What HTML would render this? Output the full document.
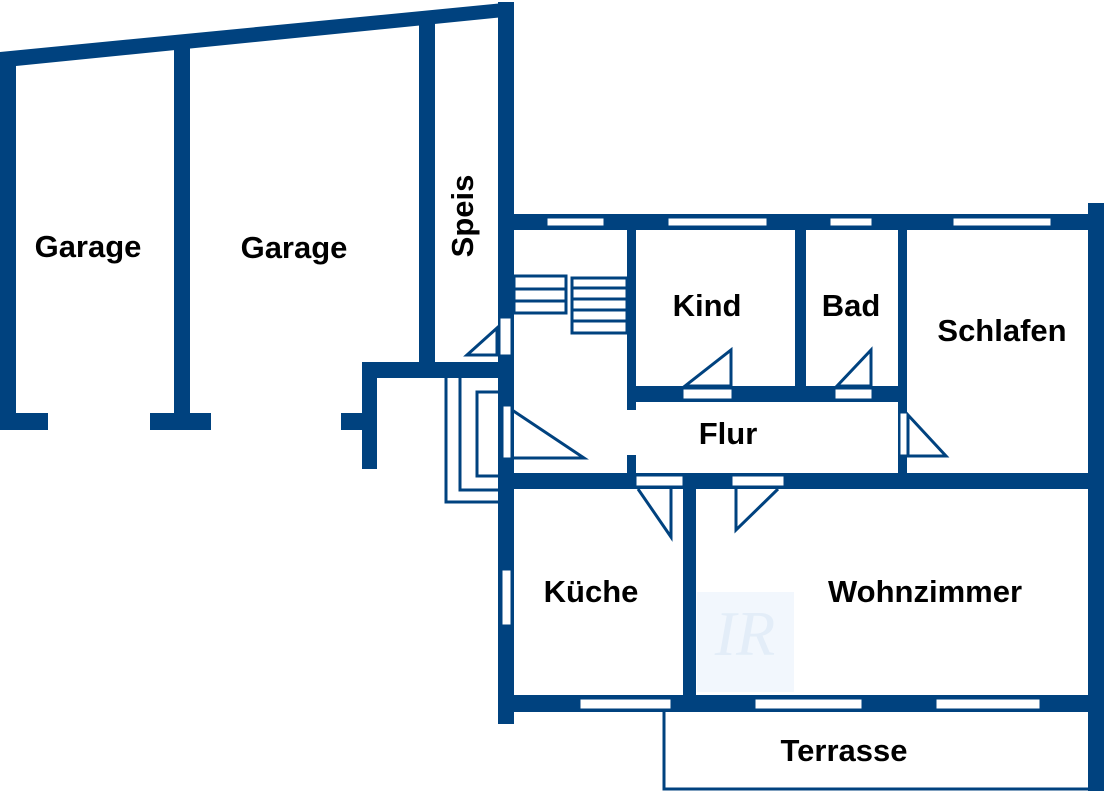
<!DOCTYPE html>
<html><head><style>
html,body{margin:0;padding:0;background:#fff;width:1106px;height:791px;overflow:hidden}
svg text{font-family:"Liberation Sans",sans-serif;font-weight:bold;font-size:31px;fill:#000;text-anchor:middle}
</style></head><body>
<svg width="1106" height="791" viewBox="0 0 1106 791" xmlns="http://www.w3.org/2000/svg">
<g fill="#00427f">
<polygon points="0,52 514,2 514,16 16,66 0,66"/>
<rect x="0" y="52" width="16" height="378"/>
<rect x="0" y="413" width="48" height="17"/>
<rect x="174" y="40" width="16" height="390"/>
<rect x="150" y="413" width="61" height="17"/>
<rect x="419" y="16" width="16" height="350"/>
<rect x="498" y="2" width="16" height="722"/>
<rect x="362" y="362" width="152" height="16"/>
<rect x="362" y="362" width="15" height="107"/>
<rect x="341" y="413" width="30" height="17"/>
<rect x="498" y="214" width="606" height="16"/>
<rect x="1088" y="203" width="16" height="588"/>
<rect x="627" y="230" width="9" height="180"/>
<rect x="627" y="455" width="9" height="20"/>
<rect x="627" y="386" width="280" height="16"/>
<rect x="795" y="230" width="11" height="160"/>
<rect x="898" y="230" width="9" height="245"/>
<rect x="498" y="473" width="606" height="16"/>
<rect x="683" y="488" width="13" height="220"/>
<rect x="498" y="695" width="606" height="17"/>
</g>
<g fill="#fff" stroke="#00427f" stroke-width="1">
<rect x="547" y="218" width="57" height="8"/>
<rect x="668" y="218" width="99" height="8"/>
<rect x="830" y="218" width="42" height="8"/>
<rect x="953" y="218" width="98" height="8"/>
<rect x="580" y="699" width="91" height="10"/>
<rect x="755" y="699" width="107" height="10"/>
<rect x="936" y="699" width="104" height="10"/>
<rect x="502" y="570" width="9" height="55"/>
<rect x="683" y="389" width="49" height="10"/>
<rect x="835" y="389" width="37" height="10"/>
<rect x="900" y="413" width="7" height="42"/>
<rect x="636" y="476" width="47" height="10"/>
<rect x="732" y="476" width="52" height="10"/>
<rect x="503" y="406" width="8" height="52"/>
<rect x="500" y="318" width="11" height="37"/>
</g>
<g fill="none" stroke="#00427f" stroke-width="3">
<polygon points="685,386 731,350 731,386"/>
<polygon points="837,386 871,350 871,386"/>
<polygon points="908,415 946,456 908,456"/>
<polyline points="638,489 671,537 671,489"/>
<polyline points="736,489 736,530 778,489"/>
<polygon points="512,410 584,458 512,458"/>
<polygon points="497,328 467,355 497,355"/>
<rect x="514" y="276" width="52" height="37"/>
<line x1="514" y1="289" x2="566" y2="289"/>
<line x1="514" y1="301" x2="566" y2="301"/>
<rect x="572" y="278" width="55" height="55"/>
<line x1="572" y1="288" x2="627" y2="288"/>
<line x1="572" y1="299" x2="627" y2="299"/>
<line x1="572" y1="310" x2="627" y2="310"/>
<line x1="572" y1="321" x2="627" y2="321"/>
<polyline points="446,378 446,502 498,502"/>
<polyline points="460,378 460,490 498,490"/>
<polyline points="498,392 477,392 477,476 498,476"/>
<polyline points="664,712 664,789 1090,789"/>
</g>
<rect x="697" y="592" width="97" height="100" fill="#f2f7fd"/>
<text x="745" y="655" style="font-family:'Liberation Serif',serif;font-style:italic;font-weight:normal;font-size:64px;fill:#e3edf8">IR</text>
<text x="88" y="257">Garage</text>
<text x="294" y="258">Garage</text>
<text transform="translate(473,216) rotate(-90)">Speis</text>
<text x="707" y="316">Kind</text>
<text x="851" y="316">Bad</text>
<text x="1002" y="341">Schlafen</text>
<text x="728" y="444">Flur</text>
<text x="591" y="602">Küche</text>
<text x="925" y="602">Wohnzimmer</text>
<text x="844" y="761">Terrasse</text>
</svg>
</body></html>
